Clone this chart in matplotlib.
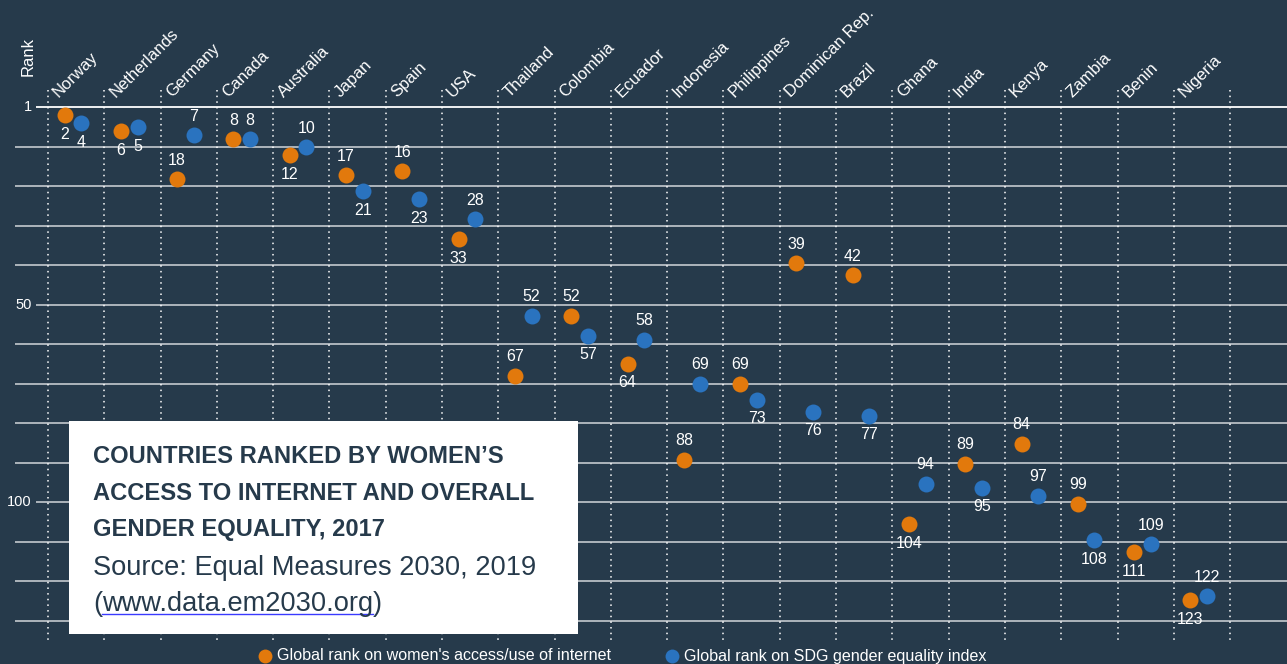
import matplotlib
matplotlib.use('Agg')
import matplotlib.pyplot as plt
import numpy as np
from matplotlib.patches import Rectangle

plt.rcParams['font.family'] = ['Liberation Sans', 'DejaVu Sans']

# ── data ─────────────────────────────────────────────────────────────────────
countries = ['Norway', 'Netherlands', 'Germany', 'Canada', 'Australia', 'Japan',
             'Spain', 'USA', 'Thailand', 'Colombia', 'Ecuador', 'Indonesia',
             'Philippines', 'Dominican Rep.', 'Brazil', 'Ghana', 'India',
             'Kenya', 'Zambia', 'Benin', 'Nigeria']
internet_rank = [2, 6, 18, 8, 12, 17, 16, 33, 67, 52, 64, 88, 69, 39, 42,
                 104, 89, 84, 99, 111, 123]
sdg_rank = [4, 5, 7, 8, 10, 21, 23, 28, 52, 57, 58, 69, 73, 76, 77,
            94, 95, 97, 108, 109, 122]
# 1 = number above the dot, 0 = below
internet_above = [0, 0, 1, 1, 0, 1, 1, 0, 1, 1, 0, 1, 1, 1, 1, 0, 1, 1, 1, 0, 0]
sdg_above = [0, 0, 1, 1, 1, 0, 0, 1, 1, 0, 1, 1, 0, 0, 0, 1, 0, 1, 0, 1, 1]

legend_internet = "Global rank on women's access/use of internet"
legend_sdg = "Global rank on SDG gender equality index"

# ── palette ──────────────────────────────────────────────────────────────────
BG = '#263a4b'
ORANGE = '#e2790c'
BLUE = '#2a73bf'
GRID = '#b8bec4'
NAVY = '#263a4b'

W, H = 1287, 664
X0, XSTEP = 48, 56.29      # pixel of first separator, pixels per country
Y0, YSTEP = 107, 4.01      # pixel of rank 0, pixels per rank


def px2x(px):
    return (px - X0) / XSTEP


def py2r(py):
    return (py - Y0) / YSTEP


fig = plt.figure(figsize=(W / 100, H / 100), dpi=100)
fig.patch.set_facecolor(BG)
ax = fig.add_axes([0, 0, 1, 1])
ax.set_facecolor(BG)
ax.set_xlim(px2x(0), px2x(W))
ax.set_ylim(py2r(H), py2r(0))
ax.axis('off')

n = len(countries)
idx = np.arange(n)

# horizontal grid
grid_r = np.arange(14) * 9.86
tick_lab = {0: '1', 5: '50', 10: '100'}
for k, r in enumerate(grid_r):
    x_start = px2x(36) if k in tick_lab else px2x(15)
    ax.plot([x_start, px2x(W)], [r, r], color='white' if k == 0 else GRID,
            lw=1.3, zorder=1, solid_capstyle='butt')
    if k in tick_lab:
        ax.text(px2x(32), r, tick_lab[k], color='white', fontsize=10.5,
                ha='right', va='center')

# vertical dotted separators
for k in range(n + 1):
    ax.plot([k, k], [py2r(90), py2r(640)], color='white', lw=1.1,
            linestyle=(0, (1.0, 2.7)), zorder=1)

ax.text(px2x(28), py2r(57), 'Rank', rotation=90, color='white', fontsize=12,
        ha='center', va='center')

# country labels
for i, name in enumerate(countries):
    ax.text(i + 11 / XSTEP, py2r(98), name, rotation=45, rotation_mode='anchor',
            ha='left', va='baseline', color='white', fontsize=12)

# dots
xo = idx + 0.295
xb = idx + 0.59
ax.scatter(xo, internet_rank, s=132, color=ORANGE, zorder=3, lw=0,
           label=legend_internet)
ax.scatter(xb, sdg_rank, s=132, color=BLUE, zorder=3, lw=0, label=legend_sdg)

for x, v, up in zip(xo, internet_rank, internet_above):
    ax.annotate(str(v), (x, v), xytext=(0, 13.7 if up else -13.7),
                textcoords='offset points', ha='center', va='center',
                color='white', fontsize=11.5, zorder=4)
for x, v, up in zip(xb, sdg_rank, sdg_above):
    ax.annotate(str(v), (x, v), xytext=(0, 13.7 if up else -13.7),
                textcoords='offset points', ha='center', va='center',
                color='white', fontsize=11.5, zorder=4)

# title box
fig.patches.append(Rectangle((69 / W, 1 - 634 / H), 509 / W, 213 / H,
                             transform=fig.transFigure, fc='white', ec='none',
                             zorder=5))
title_lines = ['COUNTRIES RANKED BY WOMEN\u2019S',
               'ACCESS TO INTERNET AND OVERALL',
               'GENDER EQUALITY, 2017']
for line, by in zip(title_lines, [463, 500, 536]):
    fig.text(93 / W, 1 - by / H, line, color=NAVY, fontsize=17.1,
             fontweight='bold', ha='left', va='baseline', zorder=6)
fig.text(93 / W, 1 - 575 / H, 'Source: Equal Measures 2030, 2019', color=NAVY,
         fontsize=19.6, ha='left', va='baseline', zorder=6)

# url line with underline
renderer = fig.canvas.get_renderer()
t1 = fig.text(93 / W, 1 - 611 / H, '(', color=NAVY, fontsize=19.6,
              ha='left', va='baseline', zorder=6)
bb = t1.get_window_extent(renderer)
t2 = fig.text(bb.x1 / W, 1 - 611 / H, 'www.data.em2030.org', color=NAVY,
              fontsize=19.6, ha='left', va='baseline', zorder=6)
bb2 = t2.get_window_extent(renderer)
fig.text(bb2.x1 / W, 1 - 611 / H, ')', color=NAVY, fontsize=19.6,
         ha='left', va='baseline', zorder=6)
uy = 1 - 614 / H
fig.add_artist(plt.Line2D([bb2.x0 / W, bb2.x1 / W], [uy, uy], color='#3a3aff',
                          lw=1.0, transform=fig.transFigure, zorder=6))

# legend
leg = fig.legend(loc='center left', bbox_to_anchor=(258 / W, 1 - 656 / H),
                 ncol=2, frameon=False, fontsize=11.6, labelcolor='white',
                 handlelength=0.9, handletextpad=0.3, columnspacing=3.3,
                 borderpad=0, borderaxespad=0, markerscale=0.87)

fig.savefig('out.png', dpi=100, facecolor=BG)
